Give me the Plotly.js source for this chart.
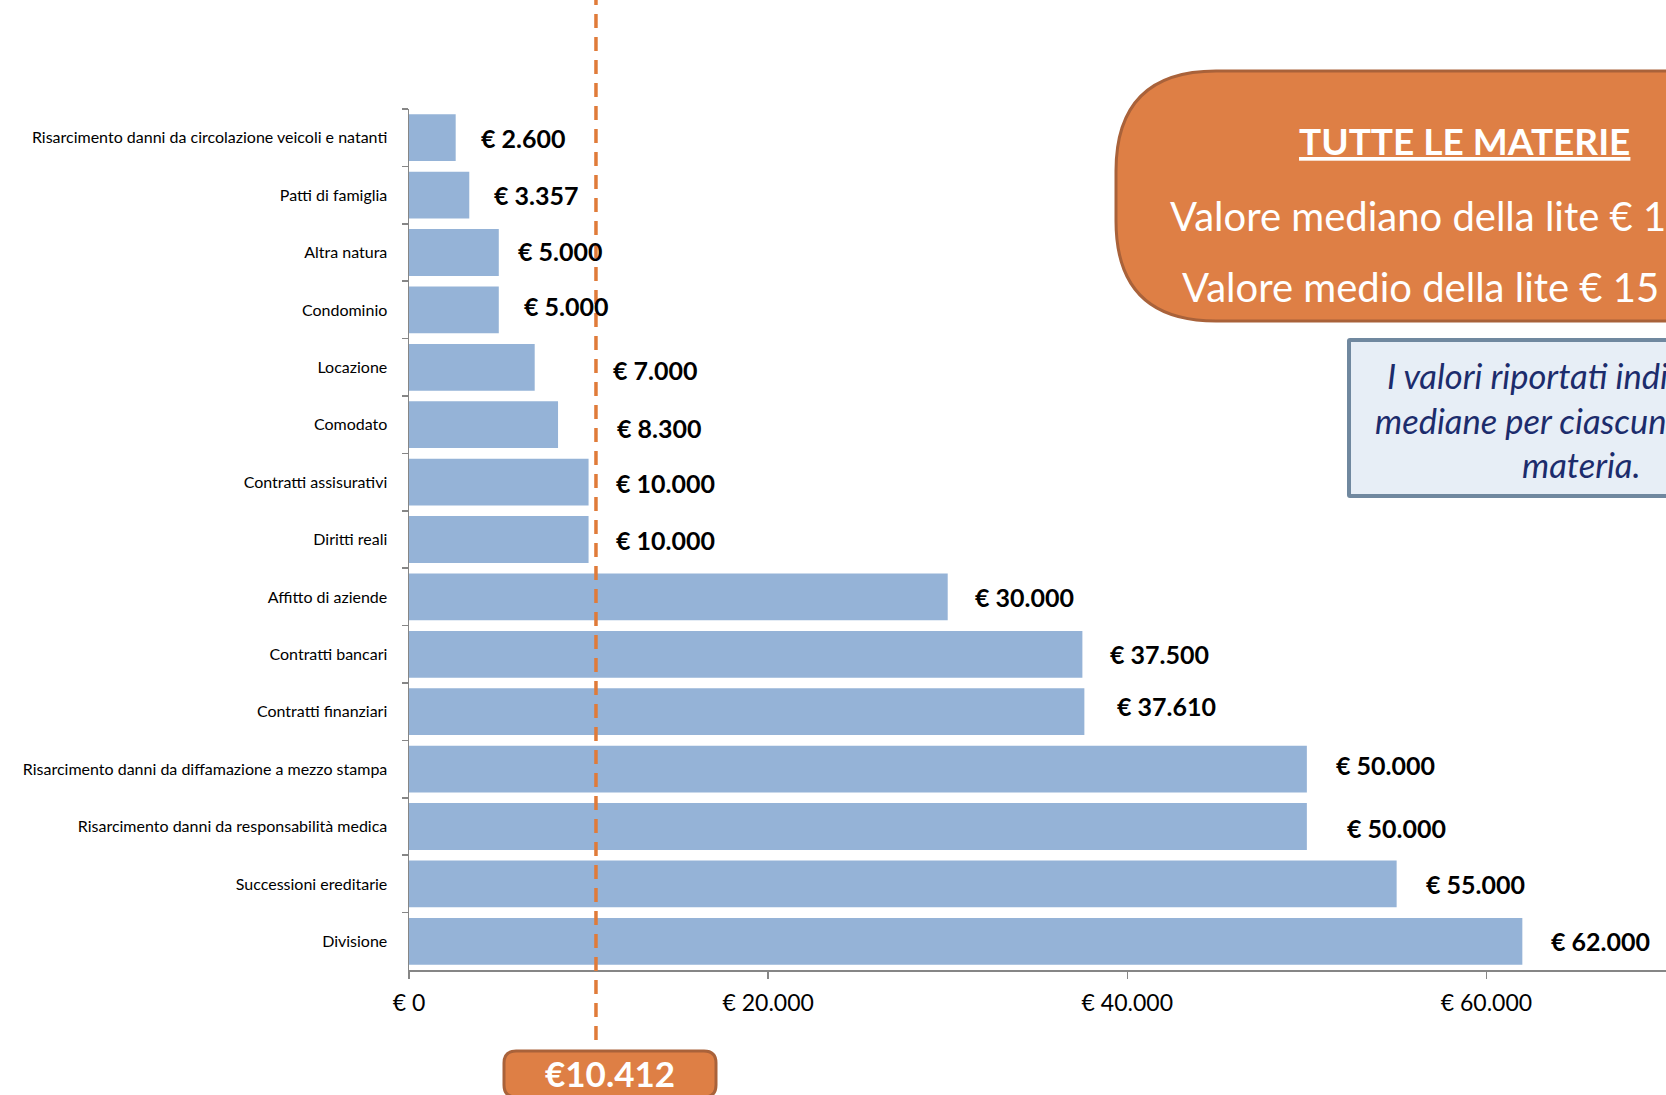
<!DOCTYPE html>
<html>
<head>
<meta charset="utf-8">
<script src="https://cdn.plot.ly/plotly-3.0.1.min.js"></script>
<style>html,body{margin:0;padding:0;background:#fff;}#chart{width:1666px;height:1095px;}</style>
</head>
<body>
<div id="chart"></div>
<script>
// ---- DATA ----
const categories = [
  "Risarcimento danni da circolazione veicoli e natanti",
  "Patti di famiglia",
  "Altra natura",
  "Condominio",
  "Locazione",
  "Comodato",
  "Contratti assisurativi",
  "Diritti reali",
  "Affitto di aziende",
  "Contratti bancari",
  "Contratti finanziari",
  "Risarcimento danni da diffamazione a mezzo stampa",
  "Risarcimento danni da responsabilità medica",
  "Successioni ereditarie",
  "Divisione"
];
const medianValues = [2600, 3357, 5000, 5000, 7000, 8300, 10000, 10000, 30000, 37500, 37610, 50000, 50000, 55000, 62000];
const overallMedian = 10412;
const xTickValues = [0, 20000, 40000, 60000];
const boxTitle = "TUTTE LE MATERIE";
const boxLine1 = "Valore mediano della lite € 10.412";
const boxLine2 = "Valore medio della lite € 15";
const noteLines = ["I valori riportati indicano le", "mediane per ciascuna", "materia."];

// ---- LAYOUT HELPERS (pixel -> paper) ----
const W = 1666, H = 1095;
const M = {l: 409, r: 0, t: 109, b: 125};
const PW = W - M.l - M.r, PH = H - M.t - M.b;
const px = x => (x - M.l) / PW;
const py = y => (H - M.b - y) / PH;
function roundRect(x0, y0, x1, y1, r) {
  const P = (x, y) => px(x) + ',' + py(y);
  return 'M' + P(x0 + r, y0) + ' L' + P(x1 - r, y0) + ' Q' + P(x1, y0) + ' ' + P(x1, y0 + r) +
    ' L' + P(x1, y1 - r) + ' Q' + P(x1, y1) + ' ' + P(x1 - r, y1) +
    ' L' + P(x0 + r, y1) + ' Q' + P(x0, y1) + ' ' + P(x0, y1 - r) +
    ' L' + P(x0, y0 + r) + ' Q' + P(x0, y0) + ' ' + P(x0 + r, y0) + ' Z';
}
const fmt = v => String(v).replace(/\B(?=(\d{3})+(?!\d))/g, '.');

// label nudges (pixels) to mimic manual placement
const labelDx = [23, 23, 17, 23, 76, 57, 25, 25, 25, 26, 31, 27, 38, 27, 27];
const labelDy = [0, 0, 2, 4, -3, -3, -1, 0, 0, 0, 6, 4, -1, 0, 0];

const FONT = 'Lato, "Open Sans", sans-serif';
const ORANGE = '#DE7F45';
const ORANGE_DARK = '#A9623A';

const trace = {
  type: 'bar',
  orientation: 'h',
  x: medianValues,
  y: categories,
  marker: {color: '#95B3D7'},
  hoverinfo: 'none'
};

const annotations = medianValues.map((v, i) => ({
  x: v, y: categories[i], xref: 'x', yref: 'y',
  text: '<b>€ ' + fmt(v) + '</b>', showarrow: false, xanchor: 'left', yanchor: 'middle',
  xshift: labelDx[i], yshift: labelDy[i],
  font: {family: FONT, size: 25, color: '#000'}
}));

annotations.push(
  {xref: 'paper', yref: 'paper', x: px(1464), y: py(140), text: '<b><u>' + boxTitle + '</u></b>', showarrow: false,
   xanchor: 'center', yanchor: 'middle', font: {family: FONT, size: 37, color: '#fff'}},
  {xref: 'paper', yref: 'paper', x: px(1168), y: py(216), text: boxLine1, showarrow: false,
   xanchor: 'left', yanchor: 'middle', font: {family: FONT, size: 40, color: '#fff'}},
  {xref: 'paper', yref: 'paper', x: px(1180), y: py(287), text: boxLine2, showarrow: false,
   xanchor: 'left', yanchor: 'middle', font: {family: FONT, size: 40, color: '#fff'}},
  {xref: 'paper', yref: 'paper', x: px(1385), y: py(375), text: '<i>' + noteLines[0] + '</i>', showarrow: false,
   xanchor: 'left', yanchor: 'middle', font: {family: FONT, size: 34.5, color: '#1C2C6C'}},
  {xref: 'paper', yref: 'paper', x: px(1373), y: py(420), text: '<i>' + noteLines[1] + '</i>', showarrow: false,
   xanchor: 'left', yanchor: 'middle', font: {family: FONT, size: 34.5, color: '#1C2C6C'}},
  {xref: 'paper', yref: 'paper', x: px(1581), y: py(464), text: '<i>' + noteLines[2] + '</i>', showarrow: false,
   xanchor: 'center', yanchor: 'middle', font: {family: FONT, size: 34.5, color: '#1C2C6C'}},
  {xref: 'paper', yref: 'paper', x: px(610), y: py(1073), text: '<b>€' + fmt(overallMedian) + '</b>', showarrow: false,
   xanchor: 'center', yanchor: 'middle', font: {family: FONT, size: 35, color: '#fff'}}
);

const shapes = [
  {type: 'line', xref: 'x', yref: 'paper', x0: overallMedian, x1: overallMedian, y0: py(1040), y1: py(0),
   line: {color: '#E07B39', width: 3.5, dash: '14px,9px'}, layer: 'above'},
  {type: 'path', xref: 'paper', yref: 'paper', path: roundRect(1116, 71, 1860, 321, 100),
   fillcolor: ORANGE, line: {color: ORANGE_DARK, width: 3}, layer: 'above'},
  {type: 'path', xref: 'paper', yref: 'paper', path: roundRect(1349, 340, 1860, 496, 1),
   fillcolor: '#E7EEF6', line: {color: '#70889F', width: 4}, layer: 'above'},
  {type: 'path', xref: 'paper', yref: 'paper', path: roundRect(504, 1051, 716, 1097, 12),
   fillcolor: ORANGE, line: {color: ORANGE_DARK, width: 3}, layer: 'above'}
];

const layout = {
  width: W, height: H,
  margin: M,
  paper_bgcolor: '#fff', plot_bgcolor: '#fff',
  separators: ',.',
  showlegend: false,
  bargap: 0.185,
  font: {family: FONT, color: '#000'},
  xaxis: {
    range: [0, 70000], tickmode: 'array', tickvals: xTickValues,
    ticktext: xTickValues.map(v => '€ ' + fmt(v)),
    showgrid: false, zeroline: false, showline: true, linecolor: '#868686', linewidth: 1.5,
    ticks: 'outside', ticklen: 7, tickcolor: '#868686', tickwidth: 1.5,
    ticklabelstandoff: 5,
    tickfont: {family: FONT, size: 23, color: '#000'}, fixedrange: true
  },
  yaxis: {
    type: 'category', autorange: 'reversed',
    showgrid: false, zeroline: false, showline: true, linecolor: '#868686', linewidth: 1.5,
    ticks: 'outside', tickson: 'boundaries', ticklen: 6, tickcolor: '#868686', tickwidth: 1.5,
    ticklabelstandoff: 17,
    tickfont: {family: FONT, size: 16, color: '#000'}, fixedrange: true
  },
  shapes: shapes,
  annotations: annotations
};

Plotly.newPlot('chart', [trace], layout, {staticPlot: true, displayModeBar: false});
</script>
</body>
</html>
